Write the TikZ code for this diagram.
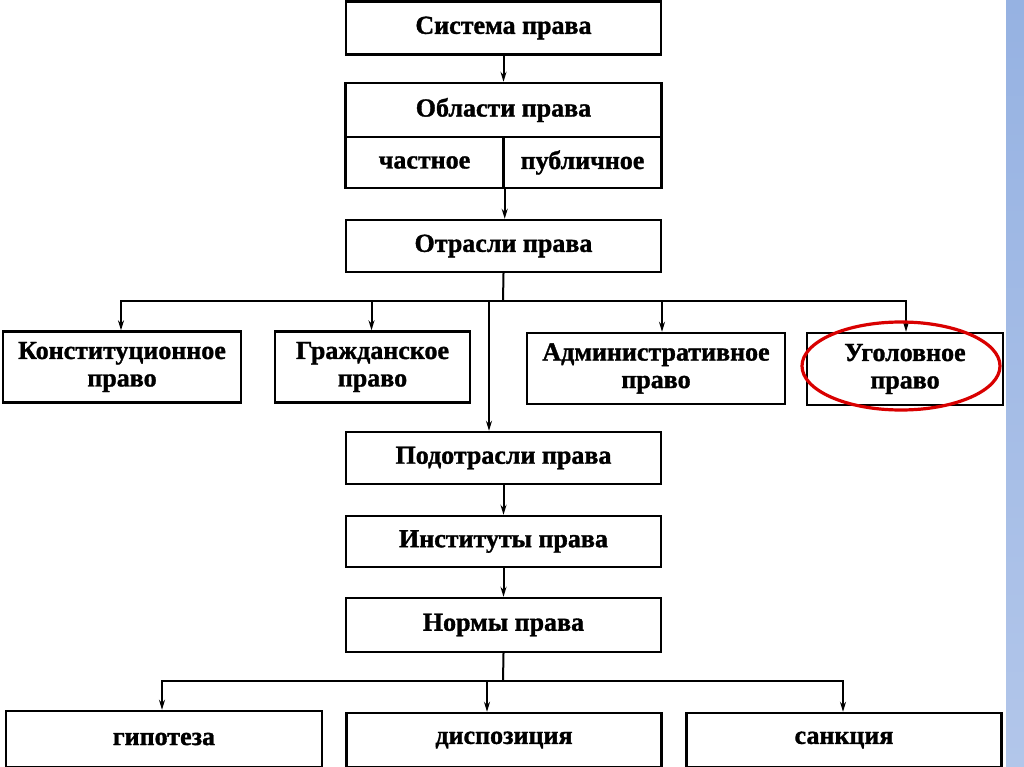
\documentclass[tikz,border=0pt]{standalone}
\usepackage{fontspec}
\setmainfont{Liberation Serif}[BoldFeatures={FakeBold=1.3}]
\usetikzlibrary{arrows.meta,calc}
\begin{document}
\begin{tikzpicture}[x=1pt,y=-1pt,
  box/.style={draw=black,line width=2.4pt,fill=white,inner sep=0pt,align=center,
    font=\bfseries\fontsize{26}{27.5}\selectfont},
  arr/.style={line width=2pt,-{Stealth[length=10pt,width=6pt]}},
  ln/.style={line width=2pt}]
\useasboundingbox (0,0) rectangle (1024,767);
\fill[white] (0,0) rectangle (1024,767);
\fill[top color={rgb,255:red,150;green,178;blue,226},bottom color={rgb,255:red,178;green,198;blue,234}] (1006,0) rectangle (1024,767);
% top chain
\node[box,minimum width=315,minimum height=53] (sys) at (503.5,28) {Система права};
\node[box,minimum width=316,minimum height=54] (obl) at (503.5,110) {Области права};
\node[box,minimum width=158,minimum height=51] (chast) at (424.5,162.5) {частное};
\node[box,minimum width=158,minimum height=51] (publ) at (582.5,162.5) {публичное};
\node[box,minimum width=315,minimum height=52] (otr) at (503.5,246) {Отрасли права};
\draw[arr] (sys.south) -- (obl.north);
\draw[arr] (chast.south east) -- (chast.south east |- otr.north);
% branches
\coordinate (br) at (503,301);
\coordinate (br2) at (489,301);
\node[box,minimum width=238,minimum height=71] (konst) at (122,367) {Конституционное\\право};
\node[box,minimum width=195,minimum height=71] (grazh) at (372.5,367) {Гражданское\\право};
\node[box,minimum width=258,minimum height=71] (adm) at (656,368.5) {Административное\\право};
\node[box,minimum width=196,minimum height=72] (ugol) at (905,369) {Уголовное\\право};
\draw[ln] (otr.south) -- (br);
\draw[arr] (br) -| ([xshift=-1pt]konst.north);
\draw[arr] (br) -| ([xshift=-1pt]grazh.north);
\draw[arr] (br) -| ([xshift=6pt]adm.north);
\draw[arr] (br) -| ([xshift=1pt]ugol.north);
\draw[red!85!black,line width=3.2pt] (901,366) ellipse [x radius=99, y radius=44];
% lower chain
\node[box,minimum width=315,minimum height=52] (podotr) at (503.5,458) {Подотрасли права};
\node[box,minimum width=315,minimum height=51] (inst) at (503.5,541.5) {Институты права};
\node[box,minimum width=315,minimum height=54] (norm) at (503.5,625) {Нормы права};
\draw[arr] (br2) -- (br2 |- podotr.north);
\draw[arr] (podotr.south) -- (inst.north);
\draw[arr] (inst.south) -- (norm.north);
% bottom branches
\coordinate (bb) at (503,681);
\node[box,minimum width=316,minimum height=56] (gip) at (164,739) {гипотеза};
\node[box,minimum width=315,minimum height=54] (disp) at (504,740) {диспозиция};
\node[box,minimum width=315,minimum height=54] (sank) at (844,740) {санкция};
\draw[ln] (norm.south) -- (bb);
\draw[arr] (bb) -| ([xshift=-2pt]gip.north);
\draw[arr] (bb) -| ([xshift=-17pt]disp.north);
\draw[arr] (bb) -| ([xshift=-1pt]sank.north);
\end{tikzpicture}
\end{document}
